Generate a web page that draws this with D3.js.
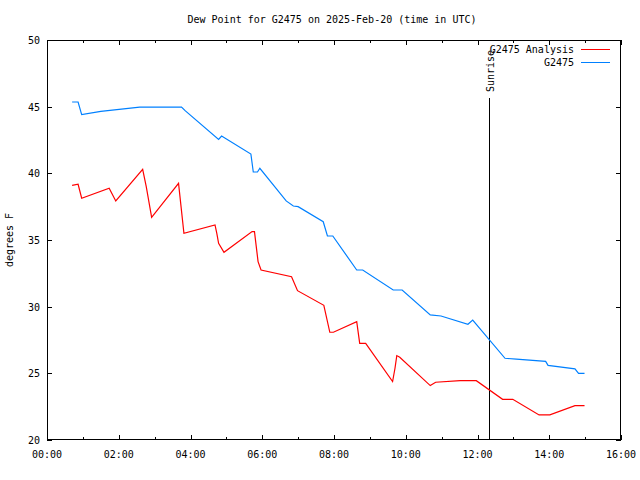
<!DOCTYPE html>
<html><head><meta charset="utf-8">
<script src="https://cdn.jsdelivr.net/npm/d3@7"></script>
<style>
body{margin:0;background:#fff;}
text{font-family:"DejaVu Sans Mono",monospace;font-size:10px;fill:#000;}
</style></head>
<body><svg id="c" width="640" height="480"></svg>
<script>
const title = "Dew Point for G2475 on 2025-Feb-20 (time in UTC)";
const yLabel = "degrees F";
const seriesNames = ["G2475 Analysis", "G2475"];
const seriesColors = ["#ff0000", "#0080ff"];
const xTickLabels = ["00:00","02:00","04:00","06:00","08:00","10:00","12:00","14:00","16:00"];
const yTickValues = [20,25,30,35,40,45,50];
const sunriseTime = "12:19";
const sunriseLabel = "Sunrise";

const analysisTimes = ["0:42","0:52","0:58","1:44","1:55","2:40","2:46","2:55","3:40","3:49","4:41","4:44","4:47","4:56","5:43","5:47","5:50","5:53","5:58","6:49","6:59","7:43","7:53","7:59","8:38","8:43","8:53","9:38","9:42","9:45","9:50","10:41","10:50","11:31","11:58","12:42","12:59","13:43","14:01","14:43","14:59"];
const analysisValues = [39.1,39.18,38.13,38.88,37.93,40.3,39.0,36.7,39.25,35.5,36.13,35.5,34.75,34.08,35.63,35.63,34.5,33.38,32.75,32.25,31.2,30.1,28.08,28.08,28.87,27.25,27.25,24.38,25.38,26.33,26.2,24.08,24.33,24.45,24.45,23.05,23.05,21.88,21.88,22.58,22.58];

const obsTimes = ["0:42","0:52","0:58","1:30","2:35","3:45","3:51","4:47","4:52","5:41","5:45","5:52","5:56","6:40","6:52","7:00","7:42","7:49","7:58","8:38","8:48","9:39","9:54","10:41","10:59","11:44","11:52","12:46","13:05","13:54","13:58","14:43","14:49","14:59"];
const obsValues = [45.35,45.35,44.4,44.65,44.97,44.97,44.7,42.55,42.8,41.45,40.1,40.1,40.38,37.93,37.55,37.5,36.37,35.3,35.3,32.75,32.75,31.25,31.25,29.38,29.3,28.68,29.0,26.13,26.07,25.9,25.6,25.33,25.0,25.0];

const toH = s => { const [h,m] = s.split(":").map(Number); return h + m/60; };

const svg = d3.select("#c");
const L = 47, R = 621, T = 40, B = 440;
const x = d3.scaleLinear().domain([0,16]).range([L,R]);
const y = d3.scaleLinear().domain([20,50]).range([B,T]);

// title
svg.append("text").attr("x",332).attr("y",23).attr("text-anchor","middle").text(title);
// y label
svg.append("text").attr("transform","translate(13,240) rotate(-90)").attr("text-anchor","middle").text(yLabel);

const g = svg.append("g").attr("shape-rendering","crispEdges");
// frame
g.append("rect").attr("x",L+0.5).attr("y",T+0.5).attr("width",R-L-1).attr("height",B-T-1)
 .attr("fill","none").attr("stroke","#000").attr("stroke-width",1);

// x ticks (major every 2h, minor every 1h), mirrored on top
const hours = d3.range(0,17,1);
hours.forEach(h => {
  const len = h % 2 === 0 ? 5 : 3;
  const px = Math.round(x(h)) + 0.5;
  g.append("line").attr("x1",px).attr("x2",px).attr("y1",B).attr("y2",B-len).attr("stroke","#000");
  g.append("line").attr("x1",px).attr("x2",px).attr("y1",T).attr("y2",T+len).attr("stroke","#000");
});
xTickLabels.forEach((lab,i) => {
  svg.append("text").attr("x",x(i*2)).attr("y",458).attr("text-anchor","middle").text(lab);
});
// y ticks
yTickValues.forEach(v => {
  const py = Math.round(y(v)) + 0.5;
  g.append("line").attr("x1",L).attr("x2",L+5).attr("y1",py).attr("y2",py).attr("stroke","#000");
  g.append("line").attr("x1",R).attr("x2",R-5).attr("y1",py).attr("y2",py).attr("stroke","#000");
  svg.append("text").attr("x",40).attr("y",y(v)+4).attr("text-anchor","end").text(v);
});

// series
const line = d3.line().x(d => x(d[0])).y(d => y(d[1]));
const a = analysisTimes.map((t,i) => [toH(t), analysisValues[i]]);
const o = obsTimes.map((t,i) => [toH(t), obsValues[i]]);
svg.append("path").datum(a).attr("d",line).attr("fill","none").attr("stroke",seriesColors[0]).attr("stroke-width",1.2);
svg.append("path").datum(o).attr("d",line).attr("fill","none").attr("stroke",seriesColors[1]).attr("stroke-width",1.2);

// sunrise
const sx = Math.round(x(toH(sunriseTime))) + 0.5;
g.append("line").attr("x1",sx).attr("x2",sx).attr("y1",98).attr("y2",B).attr("stroke","#000");
svg.append("text").attr("transform",`translate(${sx+4},92) rotate(-90)`).attr("text-anchor","start").text(sunriseLabel);

// legend
seriesNames.forEach((n,i) => {
  const ly = 50 + i*13;
  svg.append("text").attr("x",574).attr("y",ly+3).attr("text-anchor","end").text(n);
  g.append("line").attr("x1",581).attr("x2",610).attr("y1",ly-0.5).attr("y2",ly-0.5).attr("stroke",seriesColors[i]);
});
</script></body></html>
